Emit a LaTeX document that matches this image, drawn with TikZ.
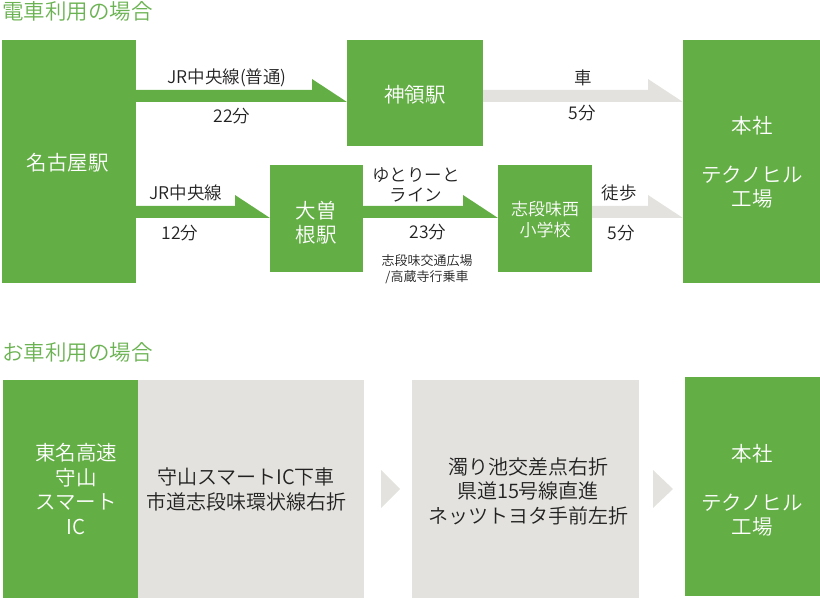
\documentclass[tikz,border=0pt]{standalone}
\usepackage{fontspec}
\setmainfont{Noto Sans CJK JP}[UprightFont={* DemiLight}]
\usetikzlibrary{calc}
\definecolor{cgreen}{HTML}{63AE45}
\definecolor{cgray}{HTML}{E3E2DE}
\definecolor{ctitle}{HTML}{6BB352}
\definecolor{ctext}{HTML}{222222}
\tikzset{
  gbox/.style={fill=cgreen, draw=none, inner sep=0pt, outer sep=0pt, anchor=north west},
  ybox/.style={fill=cgray, draw=none, inner sep=0pt, outer sep=0pt, anchor=north west},
  wtxt/.style={text=white, inner sep=0pt, align=center, font=\fontsize{20.5}{24.5}\selectfont},
  wsmall/.style={text=white, inner sep=0pt, align=center, font=\fontsize{17}{21}\selectfont},
  btxt/.style={text=ctext, inner sep=0pt, align=center, font=\fontsize{20}{24.5}\selectfont},
  lbl/.style={text=ctext, inner sep=0pt, align=center, font=\fontsize{17.5}{20}\selectfont},
  tiny/.style={text=ctext, inner sep=0pt, align=center, font=\fontsize{13}{16}\selectfont},
  ttl/.style={text=ctitle, inner sep=0pt, anchor=west, font=\fontsize{21.5}{24}\selectfont},
}
% half arrow: #1 colour, #2 from node, #3 to node, #4 bottom y
\newcommand\halfarrow[4]{%
  \fill[#1] (#2.east |- 0,#4-12) -- ($(#3.west |- 0,#4-12)+(-35,0)$)
    -- ($(#3.west |- 0,#4-23)+(-35,0)$) -- (#3.west |- 0,#4)
    -- (#2.east |- 0,#4) -- cycle;}
% chevron: #1 from node, #2 to node, #3 gap after from
\newcommand\chev[3]{%
  \fill[cgray] ($(#1.east)+(#3,-19)$) -- ($(#2.west |- #1.east)+(-12,0)$)
    -- ($(#1.east)+(#3,19)$) -- cycle;}
\begin{document}
\begin{tikzpicture}[x=1pt,y=-1pt]
\useasboundingbox (0,0) rectangle (820,599);
% ---------- train ----------
\node[ttl] (t1) at (2,11) {電車利用の場合};
\node[gbox, minimum width=134, minimum height=243] (nagoya) at (2,40) {};
\node[wtxt] (nagoyat) at (68,163) {名古屋駅};
\node[gbox, minimum width=136, minimum height=106] (jinryo) at (347,40) {};
\node[wtxt] (jinryot) at (415,95) {神領駅};
\node[gbox, minimum width=137, minimum height=243] (hq) at (683,40) {};
\node[wtxt] (hqt) at (752,162.5) {本社\\\mbox{}\\テクノヒル\\工場};
\node[gbox, minimum width=93, minimum height=107] (ozone) at (270,165) {};
\node[wtxt] (ozonet) at (316,222.5) {大曽\\根駅};
\node[gbox, minimum width=94, minimum height=107] (school) at (498,165) {};
\node[wsmall] (schoolt) at (545,219.5) {志段味西\\小学校};

\halfarrow{cgreen}{nagoya}{jinryo}{102}
\halfarrow{cgray}{jinryo}{hq}{102}
\halfarrow{cgreen}{nagoya}{ozone}{218}
\halfarrow{cgreen}{ozone}{school}{218}
\halfarrow{cgray}{school}{hq}{218}

\node[lbl] (l1a) at (227,78) {JR中央線(普通)};
\node[lbl] (l1b) at (232,116) {22分};
\node[lbl] (l2a) at (583,78) {車};
\node[lbl] (l2b) at (582,113) {5分};
\node[lbl] (l3a) at (186,193) {JR中央線};
\node[lbl] (l3b) at (180,233) {12分};
\node[lbl] (l4a) at (416,185) {ゆとりーと\\ライン};
\node[lbl] (l4b) at (428,232) {23分};
\node[tiny] (l4c) at (427,269) {志段味交通広場\\/高蔵寺行乗車};
\node[lbl] (l5a) at (619,193) {徒歩};
\node[lbl] (l5b) at (621,233) {5分};
% ---------- car ----------
\node[ttl] (t2) at (2,352.5) {お車利用の場合};
\node[gbox, minimum width=135, minimum height=218] (tomei) at (3,380) {};
\node[wtxt] (tomeit) at (76,489) {東名高速\\守山\\スマート\\IC};
\node[ybox, minimum width=226, minimum height=218] (road1) at (138,380) {};
\node[btxt] (road1t) at (246,489.5) {守山スマートIC下車\\市道志段味環状線右折};
\node[ybox, minimum width=227, minimum height=218] (road2) at (412,380) {};
\node[btxt] (road2t) at (528,491) {濁り池交差点右折\\県道15号線直進\\ネッツトヨタ手前左折};
\node[gbox, minimum width=135, minimum height=219] (hq2) at (685,377) {};
\node[wtxt] (hq2t) at (752,490) {本社\\\mbox{}\\テクノヒル\\工場};
\chev{road1}{road2}{17}
\chev{road2}{hq2}{14}
\end{tikzpicture}
\end{document}
